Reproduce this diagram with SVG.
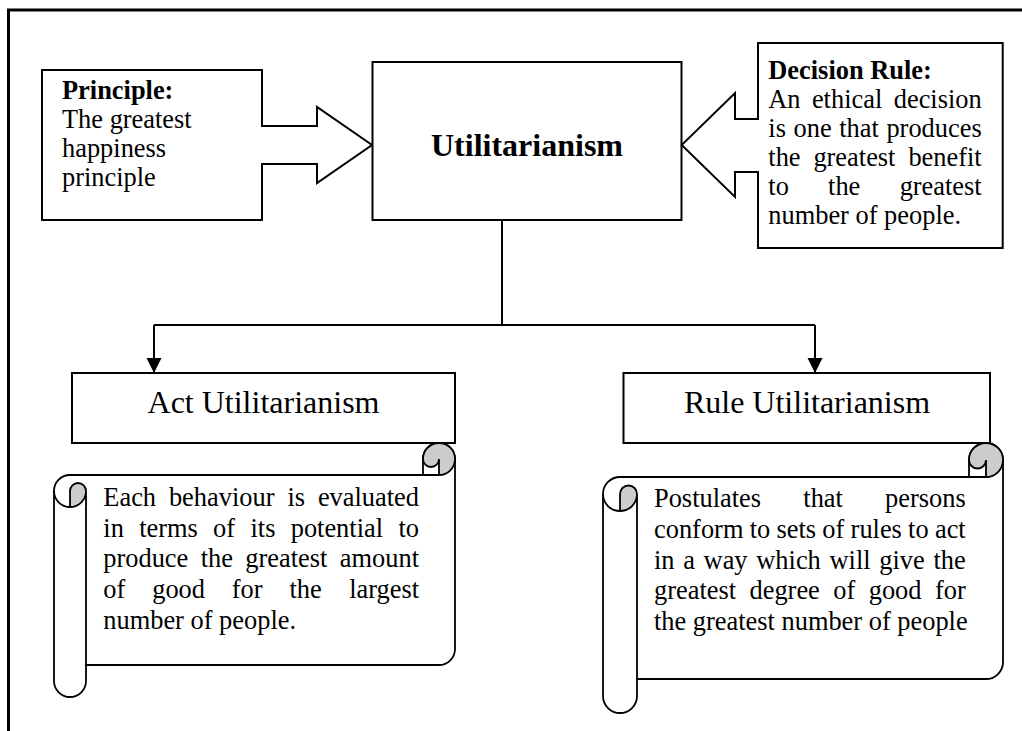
<svg xmlns="http://www.w3.org/2000/svg" width="1022" height="731" viewBox="0 0 1022 731">
  <style>
    .t { font-family: "Liberation Serif", "Times New Roman", serif; fill: #000; }
    .body { font-size: 26.4px; }
    .b { font-weight: bold; }
    .title { font-size: 32px; }
    .box { fill: #fff; stroke: #000; stroke-width: 2; }
    .line { fill: none; stroke: #000; stroke-width: 2; }
    .scroll { fill: #fff; stroke: #000; stroke-width: 1.8; stroke-linejoin: round; }
    .curl { fill: #cccccc; stroke: none; }
    .detail { fill: none; stroke: #000; stroke-width: 1.8; }
    .frame { fill: none; stroke: #000; stroke-width: 3; }
  </style>
  <defs>
    <marker id="arrow" markerWidth="16" markerHeight="16" refX="15" refY="7.5" orient="auto" markerUnits="userSpaceOnUse">
      <path d="M0,0 L15,7.5 L0,15 Z" fill="#000"/>
    </marker>
  </defs>

  <rect width="1022" height="731" fill="#fff"/>

  <!-- page border -->
  <path class="frame" d="M8.5,731 V10 H1022"/>

  <!-- principle callout -->
  <g id="principle">
    <path class="box" d="M42,70 H262 V126 H317 V107 L372,145 L317,183 V164 H262 V220 H42 Z"/>
    <text class="t body b" x="62" y="99">Principle:</text>
    <text class="t body" x="62" y="128">The greatest</text>
    <text class="t body" x="62" y="157">happiness</text>
    <text class="t body" x="62" y="186">principle</text>
  </g>

  <!-- central concept -->
  <g id="utilitarianism">
    <rect class="box" x="372.5" y="62" width="309" height="158"/>
    <text class="t title b" x="527" y="156" text-anchor="middle">Utilitarianism</text>
  </g>

  <!-- decision rule callout -->
  <g id="decision-rule">
    <path class="box" d="M758,43 H1002.7 V248 H758 V172 H735 V197 L681.7,145 L735,93 V119 H758 Z"/>
    <text class="t body b" x="768.3" y="79">Decision Rule:</text>
    <text class="t body" y="108"><tspan x="768.3">An</tspan><tspan x="811.9">ethical</tspan></text>
    <text class="t body" x="981.7" y="108" text-anchor="end">decision</text>
    <text class="t body" y="137"><tspan x="768.3">is</tspan><tspan x="793.5">one</tspan><tspan x="839.2">that</tspan></text>
    <text class="t body" x="981.7" y="137" text-anchor="end">produces</text>
    <text class="t body" y="166"><tspan x="768.3">the</tspan><tspan x="813.4">greatest</tspan></text>
    <text class="t body" x="981.7" y="166" text-anchor="end">benefit</text>
    <text class="t body" y="195"><tspan x="768.3">to</tspan><tspan x="828.1">the</tspan></text>
    <text class="t body" x="981.7" y="195" text-anchor="end">greatest</text>
    <text class="t body" x="768.3" y="224">number of people.</text>
  </g>

  <!-- connectors -->
  <g id="connectors">
    <path class="line" d="M502,220 V325"/>
    <path class="line" d="M154,325 H815"/>
    <path class="line" d="M154,325 V373" marker-end="url(#arrow)"/>
    <path class="line" d="M815,325 V373" marker-end="url(#arrow)"/>
  </g>

  <!-- act utilitarianism -->
  <g id="act-utilitarianism">
    <rect class="box" x="72" y="373" width="383" height="70"/>
    <text class="t title" x="263.5" y="412.7" text-anchor="middle">Act Utilitarianism</text>
  </g>

  <g id="act-scroll">
    <path class="scroll" d="M54,491 A16,16 0 0 1 70,475 L423,475 L423,459 A16,16 0 0 1 455,459 L455,649 A16,16 0 0 1 439,665 L86,665 L86,681 A16,16 0 0 1 54,681 Z"/>
    <path class="curl" d="M70,507 A16,16 0 0 0 86,491 A8,8 0 0 0 70,491 Z"/>
    <path class="curl" d="M439,475 A16,16 0 1 0 423,459 A8,8 0 0 0 439,459 Z"/>
    <path class="detail" d="M423,475 L439,475 A16,16 0 0 0 455,459 M439,475 L439,459 A8,8 0 0 1 423,459"/>
    <path class="detail" d="M70,507 L70,491 A8,8 0 0 1 86,491 A16,16 0 0 1 54,491 M86,491 L86,665"/>
    <path class="detail" d="M423,459 A16,16 0 0 1 455,459"/>
    <text class="t body" y="506"><tspan x="103.3">Each</tspan><tspan x="168.9">behaviour</tspan><tspan x="287.4">is</tspan></text>
    <text class="t body" x="419" y="506" text-anchor="end">evaluated</text>
    <text class="t body" y="536.7"><tspan x="103.3">in</tspan><tspan x="139.2">terms</tspan><tspan x="213.1">of</tspan><tspan x="250.5">its</tspan><tspan x="290.7">potential</tspan></text>
    <text class="t body" x="419" y="536.7" text-anchor="end">to</text>
    <text class="t body" y="567.4"><tspan x="103.3">produce</tspan><tspan x="200.7">the</tspan><tspan x="245.3">greatest</tspan></text>
    <text class="t body" x="419" y="567.4" text-anchor="end">amount</text>
    <text class="t body" y="598.1"><tspan x="103.3">of</tspan><tspan x="152.2">good</tspan><tspan x="231.8">for</tspan><tspan x="289.5">the</tspan></text>
    <text class="t body" x="419" y="598.1" text-anchor="end">largest</text>
    <text class="t body" x="103.3" y="628.8">number of people.</text>
  </g>

  <!-- rule utilitarianism -->
  <g id="rule-utilitarianism">
    <rect class="box" x="623.5" y="373" width="366.5" height="70"/>
    <text class="t title" x="807" y="412.7" text-anchor="middle">Rule Utilitarianism</text>
  </g>

  <g id="rule-scroll">
    <path class="scroll" d="M603,494 A17,17 0 0 1 620,477 L969,477 L969,460 A17,17 0 0 1 1003,460 L1003,662 A17,17 0 0 1 986,679 L637,679 L637,696 A17,17 0 0 1 603,696 Z"/>
    <path class="curl" d="M620,511 A17,17 0 0 0 637,494 A8.5,8.5 0 0 0 620,494 Z"/>
    <path class="curl" d="M986,477 A17,17 0 1 0 969,460 A8.5,8.5 0 0 0 986,460 Z"/>
    <path class="detail" d="M969,477 L986,477 A17,17 0 0 0 1003,460 M986,477 L986,460 A8.5,8.5 0 0 1 969,460"/>
    <path class="detail" d="M620,511 L620,494 A8.5,8.5 0 0 1 637,494 A17,17 0 0 1 603,494 M637,494 L637,679"/>
    <path class="detail" d="M969,460 A17,17 0 0 1 1003,460"/>
    <text class="t body" y="507.3"><tspan x="654">Postulates</tspan><tspan x="803.3">that</tspan></text>
    <text class="t body" x="965.7" y="507.3" text-anchor="end">persons</text>
    <text class="t body" y="538"><tspan x="654">conform</tspan><tspan x="749.7">to</tspan><tspan x="776.5">sets</tspan><tspan x="822.3">of</tspan><tspan x="850.6">rules</tspan><tspan x="908.1">to</tspan></text>
    <text class="t body" x="965.7" y="538" text-anchor="end">act</text>
    <text class="t body" y="568.7"><tspan x="654">in</tspan><tspan x="683.2">a</tspan><tspan x="703.6">way</tspan><tspan x="756.3">which</tspan><tspan x="829.5">will</tspan><tspan x="879.3">give</tspan></text>
    <text class="t body" x="965.7" y="568.7" text-anchor="end">the</text>
    <text class="t body" y="599.4"><tspan x="654">greatest</tspan><tspan x="749.5">degree</tspan><tspan x="833.3">of</tspan><tspan x="868.7">good</tspan></text>
    <text class="t body" x="965.7" y="599.4" text-anchor="end">for</text>
    <text class="t body" x="654" y="630.1">the greatest number of people</text>
  </g>
</svg>
